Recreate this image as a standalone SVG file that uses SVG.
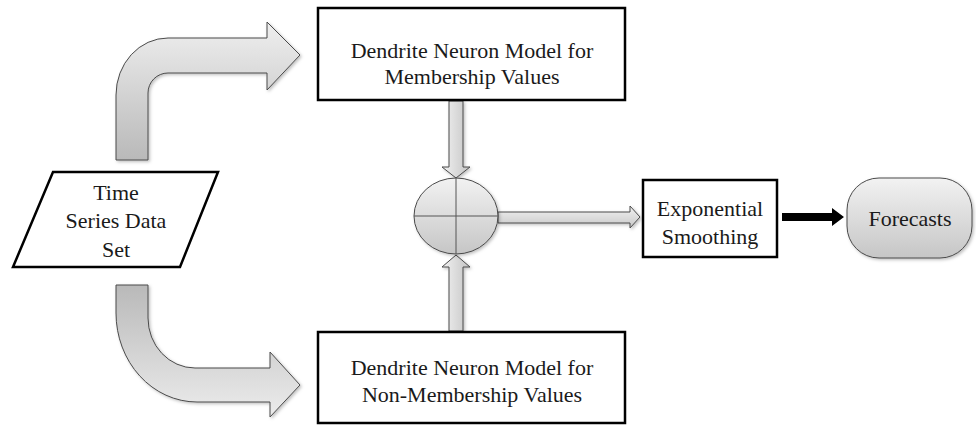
<svg xmlns="http://www.w3.org/2000/svg" width="976" height="425" viewBox="0 0 976 425">
  <defs>
    <linearGradient id="gDown" x1="0" y1="0" x2="0" y2="1">
      <stop offset="0" stop-color="#efefef"/>
      <stop offset="1" stop-color="#b9b9b9"/>
    </linearGradient>
    <linearGradient id="gUp" x1="0" y1="0" x2="0" y2="1">
      <stop offset="0" stop-color="#b9b9b9"/>
      <stop offset="1" stop-color="#ececec"/>
    </linearGradient>
    <linearGradient id="gShaft" x1="0" y1="0" x2="1" y2="0">
      <stop offset="0" stop-color="#f2f2f2"/>
      <stop offset="1" stop-color="#c4c4c4"/>
    </linearGradient>
    <linearGradient id="gH" x1="0" y1="0" x2="0" y2="1">
      <stop offset="0" stop-color="#f2f2f2"/>
      <stop offset="1" stop-color="#c8c8c8"/>
    </linearGradient>
    <linearGradient id="gNode" x1="0" y1="0" x2="0" y2="1">
      <stop offset="0" stop-color="#f2f2f2"/>
      <stop offset="1" stop-color="#c6c6c6"/>
    </linearGradient>
    <filter id="sh" x="-10%" y="-10%" width="130%" height="130%">
      <feDropShadow dx="1.5" dy="1.5" stdDeviation="1.5" flood-color="#000" flood-opacity="0.25"/>
    </filter>
  </defs>
  <style>
    .box { fill: #ffffff; stroke: #000000; stroke-width: 2.5; }
    .arrow { stroke: #4a4a4a; stroke-width: 1; stroke-linejoin: miter; }
    .lbl { font-family: "Liberation Serif", "Times New Roman", serif; font-size: 22px; fill: #1a1a1a; text-anchor: middle; }
  </style>
  <rect width="976" height="425" fill="#ffffff"/>

  <g id="connectors">
    <path class="arrow" fill="url(#gDown)" filter="url(#sh)" d="M116,160 L116,95 A52,57 0 0 1 168,38 L267,38 L267,22 L300,55 L267,90 L267,73 L168,73 A20,20 0 0 0 148,93 L148,160 Z"/>
    <path class="arrow" fill="url(#gUp)" filter="url(#sh)" d="M116,285 L148,285 L148,318 A47,50 0 0 0 195,368 L270,368 L270,352 L300,385 L270,417 L270,402 L197,402 A81,89 0 0 1 116,313 Z"/>
    <path class="arrow" fill="url(#gShaft)" filter="url(#sh)" d="M449,101 L463,101 L463,167 L470,167 L456,178 L442,167 L449,167 Z"/>
    <path class="arrow" fill="url(#gShaft)" filter="url(#sh)" d="M449,331 L463,331 L463,267 L470,267 L456,255 L442,267 L449,267 Z"/>
    <path class="arrow" fill="url(#gH)" filter="url(#sh)" d="M498,212 L630,212 L630,206 L640,217 L630,228 L630,223 L498,223 Z"/>
    <path fill="#000000" d="M782,213 L832,213 L832,208 L844,217 L832,226 L832,221 L782,221 Z"/>
  </g>

  <g id="node-timeseries">
    <polygon class="box" points="53,172 218,172 180,267 13,267"/>
    <text class="lbl" x="116" y="200">Time</text>
    <text class="lbl" x="116" y="228">Series Data</text>
    <text class="lbl" x="116" y="257">Set</text>
  </g>

  <g id="node-membership">
    <rect class="box" x="318" y="8" width="307" height="92"/>
    <text class="lbl" x="472" y="58">Dendrite Neuron Model for</text>
    <text class="lbl" x="472" y="84">Membership Values</text>
  </g>

  <g id="node-nonmembership">
    <rect class="box" x="318" y="332" width="307" height="91"/>
    <text class="lbl" x="472" y="375">Dendrite Neuron Model for</text>
    <text class="lbl" x="472" y="402">Non-Membership Values</text>
  </g>

  <g id="node-combine">
    <ellipse cx="456" cy="216" rx="42" ry="38" fill="url(#gNode)" stroke="#4a4a4a" stroke-width="1" filter="url(#sh)"/>
    <line x1="456" y1="178" x2="456" y2="254" stroke="#555555" stroke-width="1"/>
    <line x1="414" y1="216" x2="498" y2="216" stroke="#555555" stroke-width="1"/>
  </g>

  <g id="node-smoothing">
    <rect class="box" x="643" y="180" width="134" height="77"/>
    <text class="lbl" x="710" y="216">Exponential</text>
    <text class="lbl" x="710" y="244">Smoothing</text>
  </g>

  <g id="node-forecasts">
    <rect x="847" y="178" width="125" height="80" rx="32" ry="32" fill="url(#gNode)" stroke="#4a4a4a" stroke-width="1" filter="url(#sh)"/>
    <text class="lbl" x="910" y="226">Forecasts</text>
  </g>
</svg>
